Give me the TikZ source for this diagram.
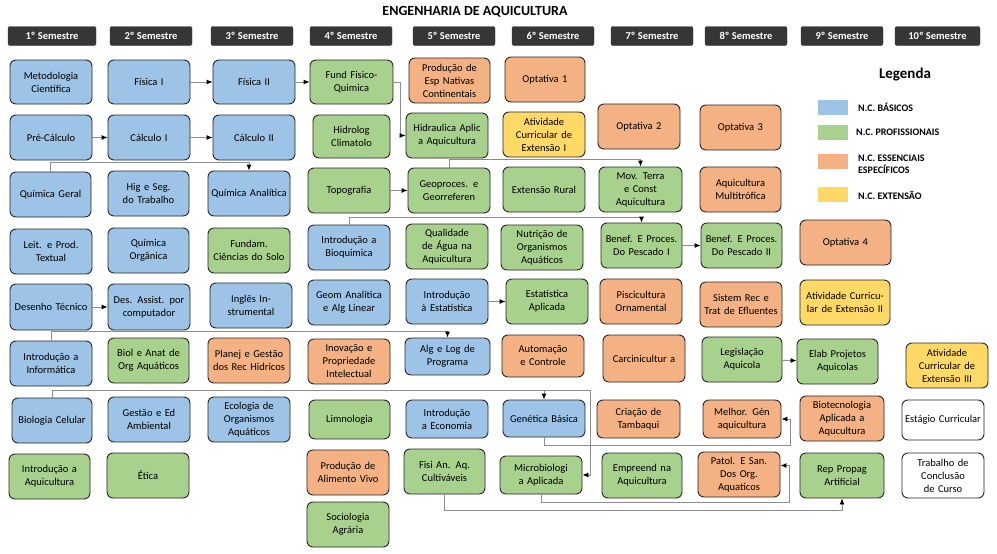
\documentclass[tikz,border=0pt]{standalone}
\usepackage{fontspec}
\setmainfont{Carlito}
\usetikzlibrary{arrows.meta,calc}
\definecolor{cB}{HTML}{9DC3E6}
\definecolor{cG}{HTML}{A9D18E}
\definecolor{cO}{HTML}{F4B183}
\definecolor{cY}{HTML}{FFD966}
\definecolor{cW}{HTML}{FFFFFF}
\definecolor{hdr}{HTML}{363636}
\definecolor{ln}{HTML}{8C8C8C}
\tikzset{
  bx/.style={draw=black!85,line width=0.9pt,rounded corners=6pt,align=center,inner sep=1pt,
    font=\fontsize{10.5}{13}\selectfont},
  hd/.style={fill=hdr,draw=hdr,rounded corners=2pt,text=white,font=\bfseries\fontsize{10.5}{12}\selectfont,inner sep=0pt},
  cn/.style={draw=ln,line width=0.9pt,-{Latex[black,length=6pt,width=5pt]}},
  lg/.style={anchor=west,font=\bfseries\fontsize{10}{12}\selectfont,align=left,inner sep=0pt}
}
\newcommand\bx[7]{\node[bx,fill=c#2,minimum width={#5-#3},minimum height={#6-#4},text width={#5-#3-6}] (#1) at ({(#3+#5)/2},{(#4+#6)/2}) {#7};}
\newcommand\hdb[4]{\node[hd,minimum width={#3-#2},minimum height=19] (#1) at ({(#2+#3)/2},36) {#4};}
\begin{document}
\begin{tikzpicture}[x=1pt,y=-1pt]
\useasboundingbox (0,0) rectangle (997,554);
\node[font=\bfseries\fontsize{14}{16}\selectfont] (title) at (475,12) {ENGENHARIA DE AQUICULTURA};
\hdb{h1}{8}{96}{1º Semestre}
\hdb{h2}{110}{192}{2º Semestre}
\hdb{h3}{211}{293}{3º Semestre}
\hdb{h4}{310}{392}{4º Semestre}
\hdb{h5}{413}{495}{5º Semestre}
\hdb{h6}{512}{594}{6º Semestre}
\hdb{h7}{611}{693}{7º Semestre}
\hdb{h8}{705}{787}{8º Semestre}
\hdb{h9}{801}{883}{9º Semestre}
\hdb{h10}{895}{980}{10º Semestre}
% row1
\bx{met}{B}{10}{60}{92}{104}{Metodologia Científica}
\bx{fis1}{B}{108}{60}{190}{104}{Física I}
\bx{fis2}{B}{213}{60}{295}{104}{Física II}
\bx{ffq}{G}{310}{60}{393}{104}{Fund Fisico-Quimica}
\bx{pen}{O}{409}{58}{490}{103}{Produção de Esp Nativas Continentais}
\bx{opt1}{O}{505}{57}{585}{102}{Optativa 1}
% row2
\bx{pc}{B}{10}{115}{92}{160}{Pré-Cálculo}
\bx{c1}{B}{108}{115}{190}{160}{Cálculo I}
\bx{c2}{B}{213}{115}{295}{160}{Cálculo II}
\bx{hid}{G}{313}{115}{390}{158}{Hidrolog Climatolo}
\bx{hac}{G}{406}{113}{488}{158}{Hidraulica Aplic a Aquicultura}
\bx{ace1}{Y}{503}{112}{585}{157}{Atividade Curricular de Extensão I}
\bx{opt2}{O}{598}{104}{680}{149}{Optativa 2}
\bx{opt3}{O}{700}{105}{781}{150}{Optativa 3}
% row3
\bx{qg}{B}{10}{172}{91}{217}{Química Geral}
\bx{hig}{B}{108}{171}{189}{216}{Hig e Seg. do Trabalho}
\bx{qa}{B}{208}{171}{290}{216}{Química Analítica}
\bx{top}{G}{308}{168}{390}{213}{Topografia}
\bx{geo}{G}{408}{168}{490}{213}{Geoproces. e Georreferen}
\bx{ext}{G}{503}{167}{585}{212}{Extensão Rural}
\bx{mov}{G}{599}{167}{682}{212}{Mov. Terra e Const Aquicultura}
\bx{amt}{O}{700}{167}{781}{212}{Aquicultura Multitrófica}
% row4
\bx{lei}{B}{10}{229}{92}{274}{Leit. e Prod. Textual}
\bx{qo}{B}{108}{228}{189}{273}{Química Orgânica}
\bx{fcs}{G}{208}{228}{290}{273}{Fundam. Ciências do Solo}
\bx{ibq}{B}{308}{225}{390}{270}{Introdução a Bioquimica}
\bx{qag}{G}{406}{224}{488}{269}{Qualidade de Água na Aquicultura}
\bx{nut}{G}{501}{225}{583}{270}{Nutrição de Organismos Aquáticos}
\bx{bf1}{G}{601}{223}{682}{268}{Benef. E Proces. Do Pescado I}
\bx{bf2}{G}{701}{223}{782}{268}{Benef. E Proces. Do Pescado II}
\bx{opt4}{O}{800}{220}{891}{265}{Optativa 4}
% row5
\bx{des}{B}{10}{284}{92}{330}{Desenho Técnico}
\bx{da}{B}{108}{284}{190}{330}{Des. Assist. por computador}
\bx{ing}{B}{210}{283}{292}{328}{Inglês Instrumental}
\bx{geom}{B}{308}{280}{390}{325}{Geom Analitica e Alg Linear}
\bx{ie}{B}{406}{279}{488}{324}{Introdução à Estatística}
\bx{ea}{G}{506}{279}{588}{324}{Estatística Aplicada}
\bx{pis}{O}{600}{279}{682}{324}{Piscicultura Ornamental}
\bx{sis}{O}{700}{282}{782}{327}{Sistem Rec e Trat de Efluentes}
\bx{ace2}{Y}{800}{280}{890}{325}{Atividade Curricular de Extensão II}
% row6
\bx{ii}{B}{10}{341}{92}{386}{Introdução a Informática}
\bx{bio}{G}{108}{338}{189}{383}{Biol e Anat de Org Aquáticos}
\bx{plan}{O}{208}{338}{290}{383}{Planej e Gestão dos Rec Hidricos}
\bx{inov}{O}{308}{339}{390}{384}{Inovação e Propriedade Intelectual}
\bx{alg}{B}{405}{338}{490}{375}{Alg e Log de Programa}
\bx{aut}{O}{502}{335}{584}{377}{Automação e Controle}
\bx{car}{O}{603}{335}{685}{382}{Carcinicultur a}
\bx{leg}{G}{702}{337}{782}{382}{Legislação Aquicola}
\bx{elab}{G}{797}{339}{878}{384}{Elab Projetos Aquicolas}
\bx{ace3}{Y}{906}{343}{988}{388}{Atividade Curricular de Extensão III}
% row7
\bx{bc}{B}{12}{398}{92}{443}{Biologia Celular}
\bx{ged}{B}{108}{397}{190}{442}{Gestão e Ed Ambiental}
\bx{eco}{B}{208}{397}{290}{442}{Ecologia de Organismos Aquáticos}
\bx{lim}{G}{309}{400}{390}{439}{Limnologia}
\bx{iec}{B}{406}{400}{488}{438}{Introdução a Economia}
\bx{gen}{B}{503}{400}{585}{437}{Genética Básica}
\bx{tam}{O}{597}{400}{680}{438}{Criação de Tambaqui}
\bx{mel}{O}{703}{400}{781}{438}{Melhor. Gén aquicultura}
\bx{biot}{O}{800}{396}{884}{441}{Biotecnologia Aplicada a Aqucultura}
\bx{est}{W}{902}{400}{984}{440}{Estágio Curricular}
% row8
\bx{iaq}{G}{9}{454}{90}{499}{Introdução a Aquicultura}
\bx{eti}{G}{107}{453}{189}{498}{Ética}
\bx{pav}{O}{307}{450}{389}{495}{Produção de Alimento Vivo}
\bx{fisi}{G}{404}{449}{485}{494}{Fisi An. Aq. Cultiváveis}
\bx{mic}{G}{500}{456}{582}{494}{Microbiologi a Aplicada}
\bx{emp}{G}{602}{453}{682}{498}{Empreend na Aquicultura}
\bx{pat}{O}{698}{452}{780}{497}{Patol. E San. Dos Org. Aquaticos}
\bx{rep}{G}{800}{453}{884}{498}{Rep Propag Artificial}
\bx{tcc}{W}{902}{453}{984}{498}{Trabalho de Conclusão de Curso}
% row9
\bx{soc}{G}{307}{502}{389}{547}{Sociologia Agrária}
% legend
\node[font=\bfseries\fontsize{15}{17}\selectfont] (leg0) at (905,75) {Legenda};
\node[fill=cB,minimum width=30,minimum height=15,inner sep=0pt] (l1) at (833,107) {};
\node[fill=cG,minimum width=30,minimum height=15,inner sep=0pt] (l2) at (833,132) {};
\node[fill=cO,minimum width=30,minimum height=15,inner sep=0pt] (l3) at (833,161) {};
\node[fill=cY,minimum width=30,minimum height=15,inner sep=0pt] (l4) at (833,194) {};
\node[lg] (t1) at (858,107) {N.C. BÁSICOS};
\node[lg] (t2) at (856,132) {N.C. PROFISSIONAIS};
\node[lg] (t3) at (858,164) {N.C. ESSENCIAIS\\ESPECÍFICOS};
\node[lg] (t4) at (858,195) {N.C. EXTENSÃO};
% connectors
\draw[cn] (fis1) -- (fis2);
\draw[cn] (fis2) -- (ffq);
\draw[cn] (pc) -- (c1);
\draw[cn] (c1) -- (c2);
\draw[cn] (top) -- (geo);
\draw[cn] (des) -- (da);
\draw[cn] (ie) -- (ea);
\draw[cn] (bf1) -- (bf2);
\draw[cn] (leg) -- (elab);
\draw[cn] (ffq.east) -- ++(7,0) |- (hac.west);
\draw[cn] (qg.north) -- ++(0,-9) -| (qa.north);
\draw[cn] (geo.north) -- ++(0,-8) -| (mov.north);
\draw[cn] (ibq.north) -- ++(0,-7) -| (bf1.north);
\draw[cn] (ii.north) -- ++(0,-9) -| (alg.north);
\coordinate (k1) at (590,0);
\coordinate (k2) at (790,0);
\coordinate (k3) at (789,0);
\draw[cn] (bc.north) -- ++(0,-7) coordinate (j1) -| (gen.north);
\draw[cn] (j1) -- (j1 -| k1) |- (mic.east);
\draw[cn] (gen.south) -- ++(0,8) coordinate (j2) -- (j2 -| k2) |- (mel.east);
\draw[cn] (mic.south) -- ++(0,8) coordinate (j3) -- (j3 -| k3) |- ($(pat.east)+(0,-9)$);
\draw[cn] (fisi.south) -- ++(0,16) -| (rep.south);
\end{tikzpicture}
\end{document}
